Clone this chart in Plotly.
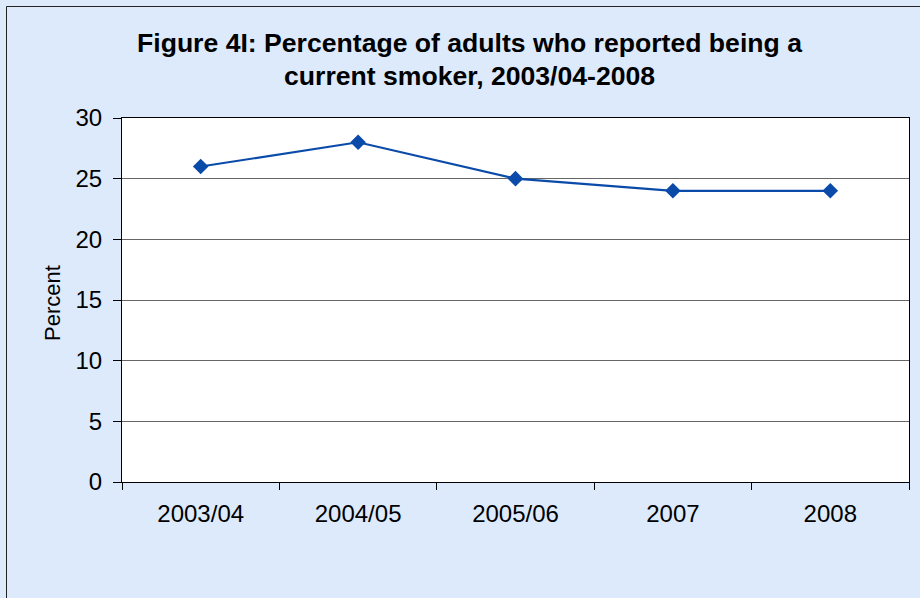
import plotly.graph_objects as go

categories = ["2003/04", "2004/05", "2005/06", "2007", "2008"]
values = [26, 28, 25, 24, 24]
title_line1 = "Figure 4I: Percentage of adults who reported being a"
title_line2 = "current smoker, 2003/04-2008"
y_title = "Percent"

W, H = 920, 598
L, R, T, B = 122, 11, 118, 116
pw, ph = W - L - R, H - T - B

def px_x(px):
    return (px - L) / pw

def px_y(py):
    return (H - B - py) / ph

BG = "#DCEAFC"
LINE = "#0A4BAA"
FONT = "Liberation Sans, Arial, sans-serif"

fig = go.Figure()
fig.add_trace(go.Scatter(
    x=categories, y=values, mode="lines+markers",
    line=dict(color=LINE, width=2.2),
    marker=dict(symbol="diamond", size=12, color=LINE),
    hoverinfo="skip", showlegend=False,
))

fig.update_layout(
    width=W, height=H,
    margin=dict(l=L, r=R, t=T, b=B, pad=0),
    paper_bgcolor=BG, plot_bgcolor="white",
    font=dict(family=FONT, color="black", size=24),
    xaxis=dict(
        type="category", tickson="boundaries", ticks="outside", ticklen=7,
        tickcolor="black", tickwidth=1, showgrid=False, showline=True,
        linecolor="black", linewidth=1, mirror=True, zeroline=False,
        tickfont=dict(size=24, family=FONT), range=[-0.5, 4.5],
        ticklabelstandoff=10,
    ),
    yaxis=dict(
        range=[0, 30], dtick=5, tick0=0, ticks="outside", ticklen=8,
        tickcolor="black", showgrid=True, gridcolor="#666666", gridwidth=1,
        showline=True, linecolor="black", linewidth=1, mirror=True,
        zeroline=False, tickfont=dict(size=24, family=FONT),
        ticklabelstandoff=6,
    ),
    annotations=[
        dict(text="<b>" + title_line1 + "</b>", x=px_x(469), y=px_y(43),
             xref="paper", yref="paper", showarrow=False,
             xanchor="center", yanchor="middle",
             font=dict(size=26.6, family=FONT, color="black")),
        dict(text="<b>" + title_line2 + "</b>", x=px_x(469), y=px_y(76),
             xref="paper", yref="paper", showarrow=False,
             xanchor="center", yanchor="middle",
             font=dict(size=26.6, family=FONT, color="black")),
        dict(text=y_title, x=px_x(52), y=px_y(303), textangle=-90,
             xref="paper", yref="paper", showarrow=False,
             xanchor="center", yanchor="middle",
             font=dict(size=22, family=FONT, color="black")),
    ],
    shapes=[
        dict(type="rect", xref="paper", yref="paper",
             x0=px_x(6.5), x1=px_x(930), y0=px_y(6.5), y1=px_y(610),
             line=dict(color="#222222", width=1), fillcolor="rgba(0,0,0,0)",
             layer="below"),
    ],
)

fig.write_html(
    "out.html",
    config={"displayModeBar": False},
    post_script="document.body.style.margin='0';document.body.style.overflow='hidden';",
)
